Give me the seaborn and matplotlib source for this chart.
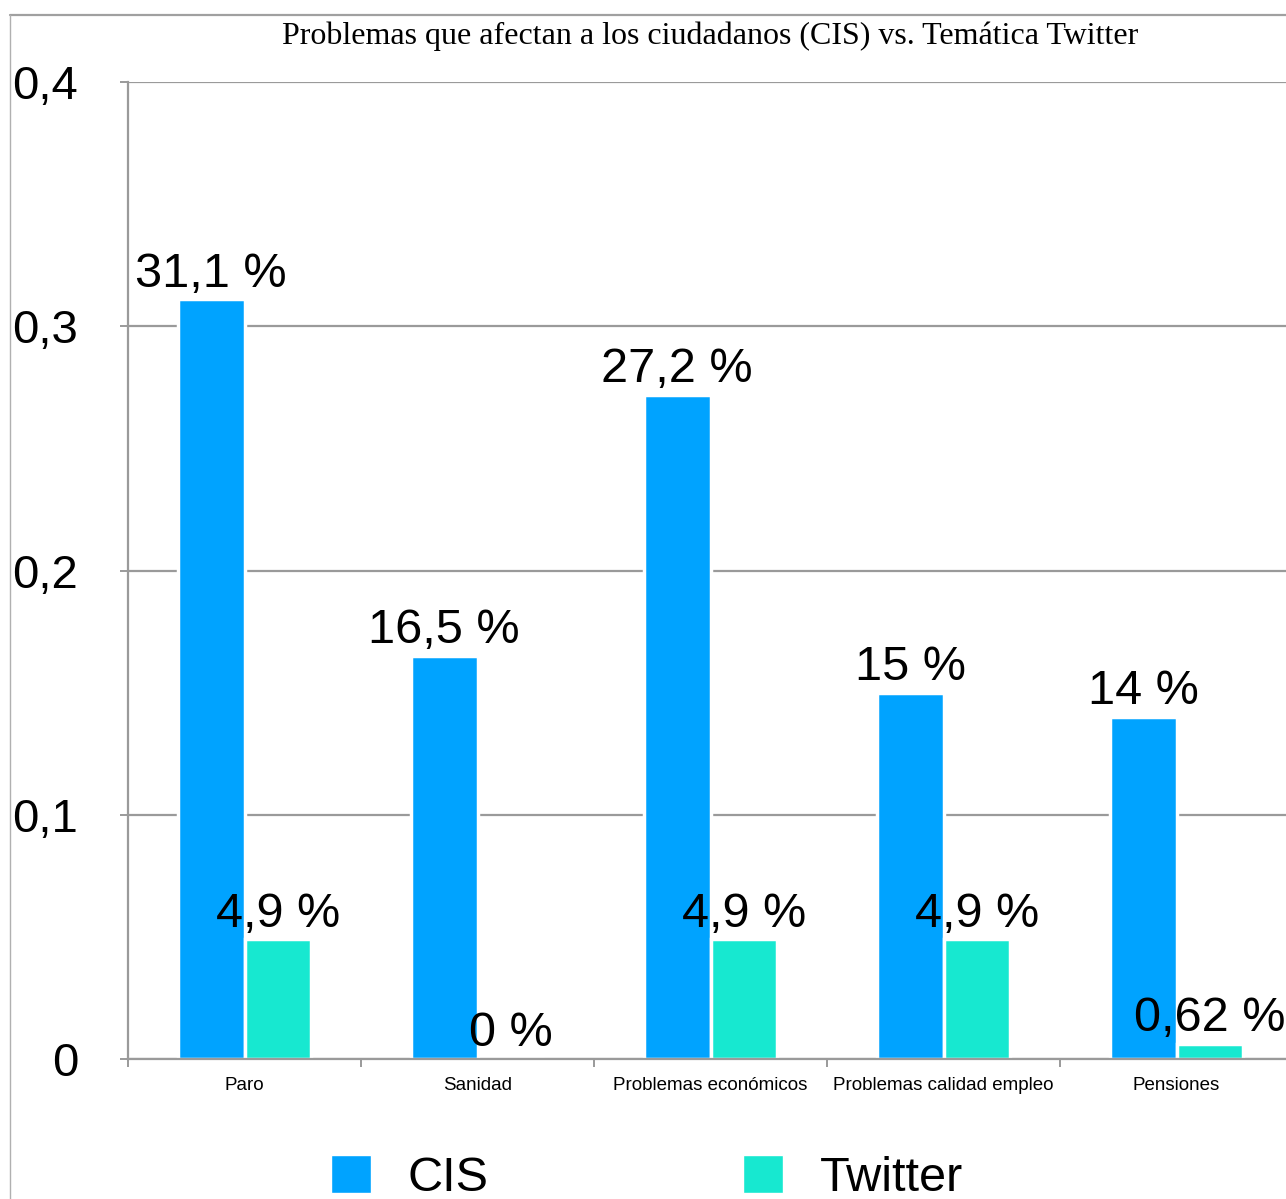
import matplotlib
matplotlib.use("Agg")
import matplotlib.pyplot as plt
from matplotlib.lines import Line2D
import pandas as pd
import seaborn as sns

# ----------------------------------------
# Data
# ----------------------------------------

categories = ["Paro", "Sanidad", "Problemas económicos",
              "Problemas calidad empleo", "Pensiones"]
cis_values = [0.311, 0.165, 0.272, 0.150, 0.140]
twitter_values = [0.049, 0.0, 0.049, 0.049, 0.0062]
cis_labels = ["31,1 %", "16,5 %", "27,2 %", "15 %", "14 %"]
twitter_labels = ["4,9 %", "0 %", "4,9 %", "4,9 %", "0,62 %"]
series = ["CIS", "Twitter"]
y_ticks = [0, 0.1, 0.2, 0.3, 0.4]
y_tick_labels = ["0", "0,1", "0,2", "0,3", "0,4"]

title = "Problemas que afectan a los ciudadanos (CIS) vs. Temática Twitter"

df = pd.DataFrame({
    "categoria": categories * 2,
    "serie": ["CIS"] * len(categories) + ["Twitter"] * len(categories),
    "valor": cis_values + twitter_values,
})

# ----------------------------------------
# Style
# ----------------------------------------

sns.set_style("white")
plt.rcParams["font.family"] = ["Liberation Sans", "DejaVu Sans"]
plt.rcParams["text.color"] = "black"
plt.rcParams["xtick.labelcolor"] = "black"
plt.rcParams["ytick.labelcolor"] = "black"

colors = {"CIS": "#00A3FF", "Twitter": "#17E8D0"}
grid_gray = "#9a9a9a"

W, H = 1286, 1199
fig = plt.figure(figsize=(W / 100, H / 100), dpi=100)

# axes extends a little past the right edge, like the original
ax = fig.add_axes([128 / W, 140 / H, 1165 / W, 977 / H])

sns.barplot(
    data=df, x="categoria", y="valor", hue="serie",
    hue_order=series, order=categories, palette=colors,
    width=0.57, edgecolor="white", linewidth=2.5,
    saturation=1, legend=False, ax=ax, zorder=3,
)

ax.set_xlim(-0.5, len(categories) - 0.5)
ax.set_ylim(0, 0.4)

# ----------------------------------------
# Axes / grid
# ----------------------------------------

ax.set_yticks(y_ticks)
ax.set_yticklabels(y_tick_labels, fontsize=34)
ax.yaxis.grid(True, color=grid_gray, linewidth=1.6)
ax.set_axisbelow(True)
ax.tick_params(axis="y", length=6, width=1.4, color=grid_gray, pad=30, left=True)

ax.set_xticks(range(len(categories)))
ax.set_xticklabels(categories, fontsize=13.5)
ax.tick_params(axis="x", which="major", length=0, pad=13)
ax.set_xticks([i - 0.5 for i in range(len(categories) + 1)], minor=True)
ax.tick_params(axis="x", which="minor", length=6, width=1.4,
               color=grid_gray, bottom=True)

for side in ["top", "right"]:
    ax.spines[side].set_visible(False)
for side in ["left", "bottom"]:
    ax.spines[side].set_color(grid_gray)
    ax.spines[side].set_linewidth(1.6)
ax.spines["bottom"].set_zorder(4)

ax.set_xlabel("")
ax.set_ylabel("")

# ----------------------------------------
# Value labels
# ----------------------------------------

for container, labels in zip(ax.containers, [cis_labels, twitter_labels]):
    ax.bar_label(container, labels=labels, fontsize=35, padding=2,
                 clip_on=False)

# ----------------------------------------
# Title, frame, legend
# ----------------------------------------

fig.text(710 / W, 1 - 36 / H, title, ha="center", va="center",
         fontsize=23, family=["Liberation Serif", "DejaVu Serif"])

fig.add_artist(Line2D([10 / W, 1], [1 - 15 / H, 1 - 15 / H],
                      transform=fig.transFigure, color="#a0a0a0", linewidth=1.6))
fig.add_artist(Line2D([10 / W, 10 / W], [0, 1 - 15 / H],
                      transform=fig.transFigure, color="#b0b0b0", linewidth=1.0))

handles = [plt.Rectangle((0, 0), 1, 1, facecolor=colors[s], edgecolor="white")
           for s in series]
fig.legend(handles, series, loc="center", bbox_to_anchor=(647 / W, 1 - 1178 / H),
           ncol=2, frameon=False, fontsize=35, handlelength=0.82,
           handleheight=0.82, handletextpad=0.75, columnspacing=5.25,
           borderpad=0, borderaxespad=0)

fig.savefig("out.png", dpi=100)
